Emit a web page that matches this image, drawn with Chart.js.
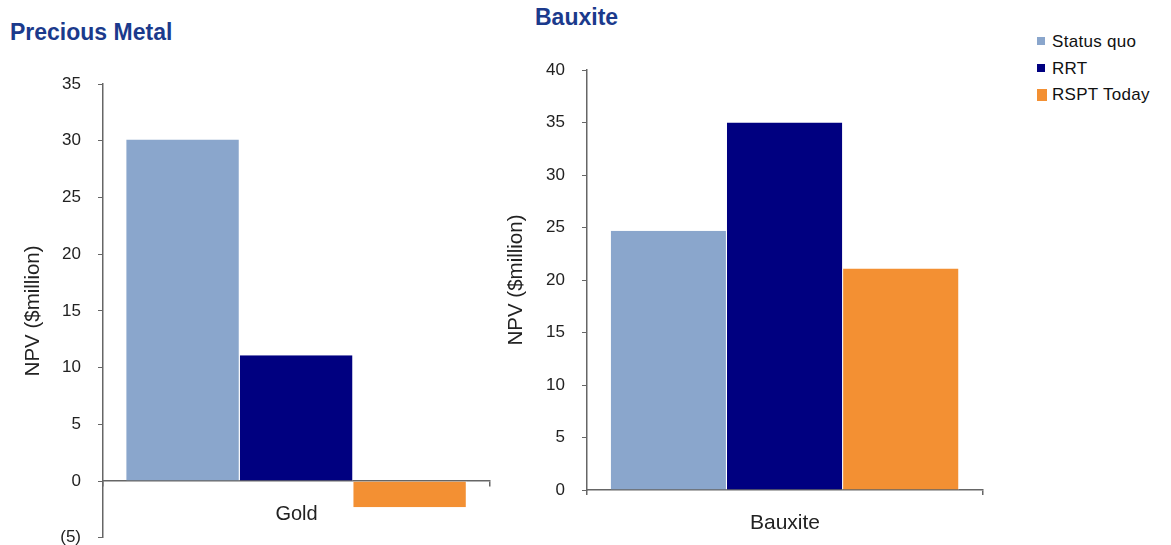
<!DOCTYPE html>
<html>
<head>
<meta charset="utf-8">
<title>NPV by tax regime</title>
<script src="https://cdn.jsdelivr.net/npm/chart.js@4/dist/chart.umd.min.js"></script>
<style>
  body { margin: 0; width: 1171px; height: 545px; position: relative; background: #fff; overflow: hidden;
         font-family: "Liberation Sans", Arial, sans-serif; }
  .panel-title { position: absolute; margin: 0; font-size: 23px; line-height: 26px; font-weight: bold; color: #1b3a8c; }
  #titleLeft { left: 10px; top: 19px; }
  #titleRight { left: 535px; top: 4px; }
  #cvLeft { position: absolute; left: 0; top: 0; }
  #cvRight { position: absolute; left: 500px; top: 0; }
  #legend { position: absolute; left: 1037px; top: 31px; font-size: 17px; letter-spacing: 0.3px; color: #111; }
  #legend div { height: 26.5px; line-height: 22px; white-space: nowrap; }
  #legend span { display: inline-block; width: 8px; height: 8px; margin-right: 7px; vertical-align: 2px; }
</style>
</head>
<body>
<h2 class="panel-title" id="titleLeft">Precious Metal</h2>
<h2 class="panel-title" id="titleRight">Bauxite</h2>
<!-- 0 위치 x축이 하단 여백을 차지하므로 캔버스를 조금 더 길게 잡음 -->
<canvas id="cvLeft" width="500" height="565"></canvas>
<canvas id="cvRight" width="500" height="545"></canvas>
<div id="legend"></div>

<script>
// 시리즈 정의
const seriesNames = ["Status quo", "RRT", "RSPT Today"];
const seriesColors = ["#8aa6cc", "#000080", "#f39033"];

// 패널별 데이터 (NPV, $million)
const goldLabels = ["Gold"];
const goldValues = [30.1, 11.1, -2.3];
const bauxiteLabels = ["Bauxite"];
const bauxiteValues = [24.7, 35.0, 21.1];

// 축 눈금
const goldTicks = { min: -5, max: 35, step: 5 };
const bauxiteTicks = { min: 0, max: 40, step: 5 };

const axisColor = "#666";
const fontFamily = '"Liberation Sans", Arial, sans-serif';

// 음수는 괄호로 표기
const fmt = (v) => (v < 0 ? `(${-v})` : `${v}`);

function makeDatasets(values) {
  return seriesNames.map((name, i) => ({
    label: name,
    data: [values[i]],
    backgroundColor: seriesColors[i],
    borderColor: "#fff",
    borderWidth: { left: 0, right: 1, top: 0, bottom: 0 },
    borderSkipped: false,
    categoryPercentage: 0.88,
    barPercentage: 1,
  }));
}

function createchart(selector, labels, values, tk, opts) {
  const xScale = {
    afterFit: (s) => { s.height = opts.xHeight; },
    grid: { display: true, drawOnChartArea: false, tickLength: 5, color: axisColor, lineWidth: 1.5 },
    border: { display: true, color: axisColor, width: 1.5 },
    ticks: { color: "#222", font: { family: fontFamily, size: opts.xFont }, padding: opts.xPad },
  };
  // 음수 구간이 있으면 x축을 0 위치에 그림
  if (opts.xAtZero) xScale.position = { y: 0 };

  return new Chart(document.querySelector(selector), {
    type: "bar",
    data: { labels, datasets: makeDatasets(values) },
    options: {
      responsive: false,
      animation: false,
      devicePixelRatio: 1,
      layout: { padding: opts.padding },
      plugins: { legend: { display: false }, tooltip: { enabled: false } },
      scales: {
        x: xScale,
        y: {
          min: tk.min,
          max: tk.max,
          afterFit: (s) => { s.width = opts.yWidth; },
          grid: { display: true, drawOnChartArea: false, tickLength: 5, color: axisColor },
          border: { display: true, color: axisColor, width: 1.5 },
          ticks: { stepSize: tk.step, color: "#222", padding: 17,
                   font: { family: fontFamily, size: 17 }, callback: (v) => fmt(v) },
          title: { display: true, text: "NPV ($million)", color: "#222",
                   font: { family: fontFamily, size: 20.5 }, padding: { top: opts.titlePad, bottom: 0 } },
        },
      },
    },
  });
}

createchart("#cvLeft", goldLabels, goldValues, goldTicks, {
  xAtZero: true, xPad: 16, xFont: 20, xHeight: 0, yWidth: 103, titlePad: 21,
  padding: { top: 84, bottom: 8, left: 0, right: 10 },
});

createchart("#cvRight", bauxiteLabels, bauxiteValues, bauxiteTicks, {
  xAtZero: false, xPad: 16, xFont: 21, xHeight: 55, yWidth: 87, titlePad: 4,
  padding: { top: 70, bottom: 0, left: 0, right: 17 },
});

// 범례
const legend = document.getElementById("legend");
seriesNames.forEach((name, i) => {
  const row = document.createElement("div");
  const sw = document.createElement("span");
  sw.style.background = seriesColors[i];
  if (i === 2) {
    sw.style.width = "10px"; sw.style.height = "12px";
    sw.style.verticalAlign = "-1px"; sw.style.marginRight = "5px";
  }
  row.appendChild(sw);
  row.appendChild(document.createTextNode(name));
  legend.appendChild(row);
});
</script>
</body>
</html>
